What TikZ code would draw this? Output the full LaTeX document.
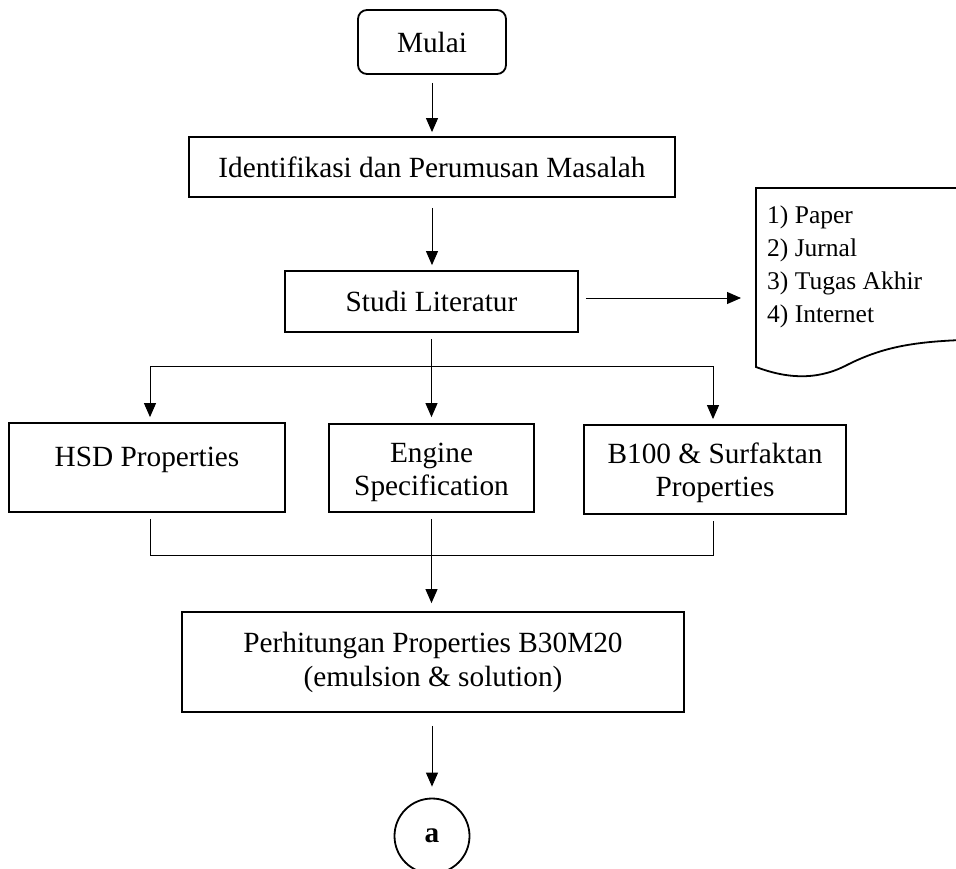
\documentclass[tikz,border=0pt]{standalone}
\usepackage{fontspec}
\setmainfont{Liberation Serif}
\usetikzlibrary{arrows.meta}
\begin{document}
\begin{tikzpicture}[x=1pt,y=-1pt,
  every node/.style={font=\fontsize{29.3}{33}\selectfont},
  box/.style={draw, line width=1.8pt, inner sep=0pt},
  lbl/.style={anchor=base, inner sep=0pt, align=center},
  listtxt/.style={anchor=base west, inner sep=0pt, font=\fontsize{25.5}{33}\selectfont},
  conn/.style={line width=1pt},
  arr/.style={conn, -{Triangle[length=14pt,width=12pt]}}
]
\clip (0,0) rectangle (956,868);
\fill[white] (0,0) rectangle (956,868);

% boxes
\node[box, rounded corners=9pt, minimum width=148pt, minimum height=64pt] (mulai) at (432,42) {Mulai};
\node[box, minimum width=486pt, minimum height=60pt] (ident) at (432,167) {Identifikasi dan Perumusan Masalah};
\node[box, minimum width=293pt, minimum height=61pt] (studi) at (431.5,301.5) {Studi Literatur};
\node[box, minimum width=276pt, minimum height=89pt] (hsd) at (147,467.5) {};
\node[box, minimum width=205pt, minimum height=88pt] (engine) at (431.5,468) {};
\node[box, minimum width=262pt, minimum height=89pt] (b100) at (715,469.5) {};
\node[box, minimum width=502pt, minimum height=100pt] (perh) at (433,662) {};
\node[draw, circle, line width=1.8pt, minimum size=75pt, inner sep=0pt] (a) at (432,836) {\textbf{a}};

% texts in boxes
\node[lbl] (thsd) at (147,466) {HSD Properties};
\node[lbl] (teng1) at (431.5,462) {Engine};
\node[lbl] (teng2) at (431.5,495) {Specification};
\node[lbl] (tb1) at (715,463) {B100 \& Surfaktan};
\node[lbl] (tb2) at (715,496) {Properties};
\node[lbl] (tp1) at (433,652) {Perhitungan Properties B30M20};
\node[lbl] (tp2) at (433,686) {(emulsion \& solution)};

% document shape
\draw[line width=1.8pt] (756,367) -- (756,188) -- (962,188) -- (962,340)
  .. controls (910,342) and (880,348) .. (845,366)
  .. controls (815,381) and (785,378) .. (756,367) -- cycle;
\coordinate (docw) at (756,298);
\node[listtxt] (l1) at (767,223) {1) Paper};
\node[listtxt] (l2) at (767,256) {2) Jurnal};
\node[listtxt] (l3) at (767,289) {3) Tugas Akhir};
\node[listtxt] (l4) at (767,322) {4) Internet};

% connectors
\draw[arr, shorten <=8pt, shorten >=4pt] (mulai.south) -- (ident.north);
\draw[arr, shorten <=10pt, shorten >=5pt] (ident.south) -- (ident.south |- studi.north);
\draw[arr, shorten <=7pt, shorten >=15pt] (studi.east |- docw) -- (docw);

\coordinate (bl) at (150,366);
\coordinate (br) at (713,366);
\draw[conn] (bl) -- (br);
\draw[arr, shorten <=6pt, shorten >=6pt] (studi.south) -- (engine.north);
\draw[arr, shorten >=5pt] (bl) -- (bl |- hsd.north);
\draw[arr, shorten >=5pt] (br) -- (br |- b100.north);

\coordinate (ml) at (150,555);
\coordinate (mr) at (713,555);
\draw[conn, shorten <=6pt, shorten >=6pt] (ml |- hsd.south) -- (ml) -- (mr) -- (mr |- b100.south);
\draw[arr, shorten <=6pt, shorten >=8pt] (engine.south) -- (engine.south |- perh.north);
\draw[arr, shorten <=13pt, shorten >=11pt] (a |- perh.south) -- (a.north);
\end{tikzpicture}
\end{document}
